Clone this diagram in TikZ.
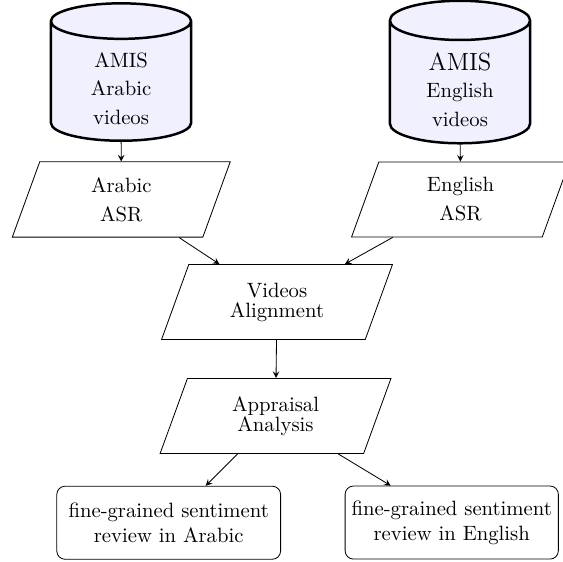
\documentclass[tikz,border=0pt]{standalone}
\usepackage{tikz}
\usetikzlibrary{shapes.geometric, positioning}

\tikzset{
	database/.style = {cylinder, shape border rotate=90, aspect=0.55, draw, very thick, fill=blue!6, minimum width=2.38cm, minimum height=2.31cm, align=center, inner sep=1pt, anchor=shape center},
	process/.style = {trapezium, trapezium left angle=70, trapezium right angle=110, trapezium stretches body, draw, minimum width=3.70cm, minimum height=1.273cm, align=center, inner xsep=1pt, inner ysep=7.5pt},
	analysis/.style = {process, minimum width=3.92cm, inner ysep=8.7pt},
	review/.style = {rectangle, rounded corners=4pt, draw, minimum height=1.24cm, align=center, inner sep=2pt},
}

\begin{document}
\begin{tikzpicture}
		\useasboundingbox (0,0) rectangle (9.559,-9.525);
		
		\node [database] (arabic videos) at (2.055,-1.223) {\rule{0pt}{12pt}AMIS\\[2pt] Arabic\\[2pt] videos};
		\node [database] (english videos) at (7.810,-1.223) {\rule{0pt}{13pt}{\large AMIS}\\[1pt] English\\[2pt] videos};
		
		\node [process] (arabic asr) at (2.059,-3.387) {Arabic\\[2pt] ASR};
		\node [process] (english asr) at (7.819,-3.387) {English\\[2pt] ASR};
		
		\node [analysis] (alignment) at (4.703,-5.128) {Videos\\[-2.3pt] Alignment};
		\node [analysis] (appraisal) at (4.678,-7.063) {Appraisal\\[-2.3pt] Analysis};
		
		\node [review, minimum width=3.80cm] (arabic review) at (2.864,-8.875) {fine-grained sentiment\\ review in Arabic};
		\node [review, minimum width=3.62cm] (english review) at (7.670,-8.872) {fine-grained sentiment\\ review in English};
		
		\begin{scope}[-stealth]
			\draw (arabic videos) -- (arabic asr);
			\draw (english videos) -- (english asr);
			\draw (arabic asr) -- (alignment);
			\draw (english asr) -- (alignment);
			\draw (alignment) -- (appraisal);
			\draw (appraisal) -- (arabic review);
			\draw (appraisal) -- (english review);
		\end{scope}
	\end{tikzpicture}
\end{document}
